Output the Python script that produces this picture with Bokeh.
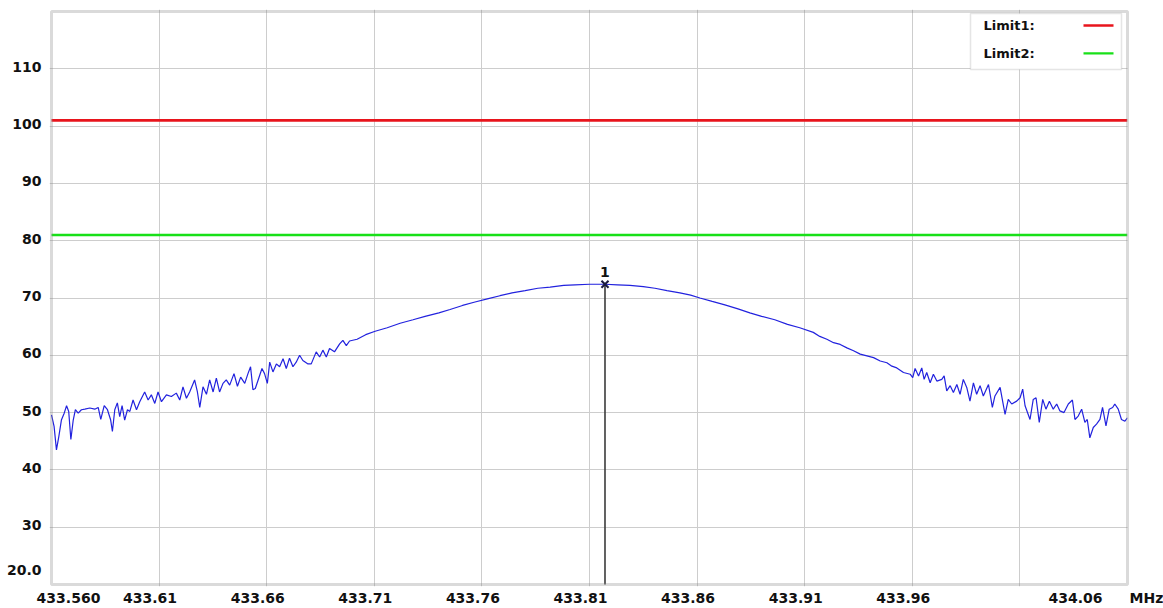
from bokeh.plotting import figure
from bokeh.models import LinearAxis, FixedTicker, Grid, BoxAnnotation, Label, CustomJSTickFormatter
from bokeh.embed import file_html
from bokeh.resources import INLINE

# ---------------- data ----------------
FREQ_MHZ = [
    433.5600, 433.5612, 433.5623, 433.5634, 433.5646, 433.5659, 433.5670, 433.5680, 433.5690, 433.5701,
    433.5711, 433.5724, 433.5739, 433.5755, 433.5778, 433.5801, 433.5817, 433.5829, 433.5845, 433.5860,
    433.5875, 433.5883, 433.5894, 433.5906, 433.5917, 433.5928, 433.5940, 433.5953, 433.5964, 433.5979,
    433.5995, 433.6010, 433.6033, 433.6049, 433.6064, 433.6080, 433.6095, 433.6111, 433.6134, 433.6157,
    433.6180, 433.6196, 433.6211, 433.6227, 433.6242, 433.6265, 433.6278, 433.6289, 433.6304, 433.6320,
    433.6335, 433.6351, 433.6366, 433.6381, 433.6397, 433.6412, 433.6428, 433.6448, 433.6464, 433.6479,
    433.6498, 433.6513, 433.6525, 433.6536, 433.6547, 433.6563, 433.6578, 433.6590, 433.6603, 433.6614,
    433.6629, 433.6645, 433.6660, 433.6676, 433.6691, 433.6706, 433.6722, 433.6737, 433.6753, 433.6768,
    433.6792, 433.6807, 433.6830, 433.6846, 433.6861, 433.6877, 433.6892, 433.6915, 433.6939, 433.6954,
    433.6970, 433.6985,
    433.7020, 433.7060, 433.7104, 433.7160, 433.7220, 433.7280, 433.7336, 433.7400, 433.7452, 433.7510,
    433.7568, 433.7630, 433.7684, 433.7740, 433.7801, 433.7860, 433.7917, 433.7980, 433.8033, 433.8100,
    433.8172, 433.8230, 433.8288, 433.8350, 433.8404, 433.8460, 433.8520, 433.8570, 433.8613, 433.8670,
    433.8729, 433.8790, 433.8845, 433.8900, 433.8961, 433.9020, 433.9077, 433.9140, 433.9170,
    433.9203, 433.9234, 433.9265, 433.9296, 433.9327, 433.9358, 433.9389, 433.9420, 433.9451, 433.9482,
    433.9505, 433.9528, 433.9559, 433.9590, 433.9602, 433.9613, 433.9629, 433.9644, 433.9655, 433.9667,
    433.9683, 433.9698, 433.9714, 433.9737, 433.9748, 433.9760, 433.9776, 433.9791, 433.9807, 433.9822,
    433.9837, 433.9853, 433.9868, 433.9884, 433.9899, 433.9915, 433.9930, 433.9954, 433.9972, 433.9984,
    434.0008, 434.0031, 434.0046, 434.0062, 434.0085, 434.0101, 434.0113, 434.0124, 434.0147, 434.0162,
    434.0175, 434.0190, 434.0206, 434.0221, 434.0237, 434.0255, 434.0271, 434.0286, 434.0305, 434.0325,
    434.0344, 434.0356, 434.0371, 434.0387, 434.0402, 434.0413, 434.0425, 434.0441, 434.0456, 434.0472,
    434.0484, 434.0500, 434.0515, 434.0531, 434.0541, 434.0557, 434.0572, 434.0588, 434.0600,
]
LEVEL_DBUV = [
    49.6, 47.6, 43.5, 45.8, 48.7, 49.9, 51.2, 50.2, 45.3, 48.7,
    50.5, 49.9, 50.5, 50.6, 50.8, 50.6, 50.9, 48.8, 51.2, 50.5,
    48.7, 46.7, 50.5, 51.7, 49.3, 51.2, 48.7, 50.5, 50.2, 52.2,
    50.5, 51.9, 53.6, 52.2, 53.1, 51.6, 53.6, 51.9, 53.1, 52.8,
    53.4, 52.2, 54.5, 52.5, 53.6, 55.7, 53.6, 50.9, 54.5, 53.2,
    55.7, 53.6, 56.0, 53.6, 55.1, 55.7, 54.8, 56.8, 54.6, 56.2,
    55.1, 56.8, 58.0, 54.0, 54.2, 56.0, 57.7, 56.8, 55.1, 58.8,
    57.1, 58.5, 58.0, 59.4, 57.7, 59.5, 58.0, 58.8, 60.0, 59.1,
    58.5, 58.5, 60.6, 59.7, 60.9, 59.7, 61.2, 60.6, 62.0, 62.6,
    61.7, 62.5,
    62.8, 63.6, 64.2, 64.8, 65.6, 66.2, 66.8, 67.4, 68.0, 68.7,
    69.3, 69.9, 70.4, 70.9, 71.3, 71.7, 71.9, 72.2, 72.3, 72.4,
    72.4, 72.3, 72.2, 72.0, 71.7, 71.3, 70.9, 70.5, 70.0, 69.4,
    68.8, 68.1, 67.4, 66.8, 66.2, 65.4, 64.8, 64.0, 63.3,
    62.8, 62.2, 61.9, 61.3, 60.8, 60.2, 59.9, 59.6, 59.0, 58.7,
    58.1, 57.8, 57.0, 56.7, 56.1, 57.7, 56.4, 57.8, 55.8, 57.0,
    55.2, 56.7, 55.5, 55.8, 56.4, 53.8, 54.7, 53.5, 54.9, 53.2,
    55.8, 54.4, 52.0, 55.2, 53.2, 54.7, 52.9, 54.9, 50.9, 52.9,
    54.4, 49.7, 52.3, 51.5, 52.0, 52.6, 54.1, 51.2, 48.8, 52.3,
    52.6, 48.3, 52.3, 50.6, 52.0, 50.6, 51.5, 50.3, 50.0, 51.5,
    52.2, 48.8, 49.4, 50.6, 48.3, 48.8, 45.6, 47.4, 48.0, 48.8,
    50.9, 47.7, 50.6, 50.9, 51.5, 50.6, 48.8, 48.5, 49.1,
]

X_GRID = [433.61, 433.66, 433.71, 433.76, 433.81, 433.86, 433.91, 433.96, 434.01]
X_TICKS = [433.56, 433.61, 433.66, 433.71, 433.76, 433.81, 433.86, 433.91, 433.96, 434.06]
X_TICK_LABELS = ["433.560", "433.61", "433.66", "433.71", "433.76", "433.81", "433.86", "433.91", "433.96", "434.06"]
Y_GRID = [30, 40, 50, 60, 70, 80, 90, 100, 110]
Y_TICKS = [20, 30, 40, 50, 60, 70, 80, 90, 100, 110]
Y_TICK_LABELS = ["20.0", "30", "40", "50", "60", "70", "80", "90", "100", "110"]
X_UNIT = "MHz"

LIMIT_NAMES = ["Limit1:", "Limit2:"]
LIMIT_LEVELS = [101.0, 81.0]
LIMIT_COLORS = ["#e8141c", "#18e018"]

MARKER_NAME = "1"
MARKER_FREQ = 433.8172
MARKER_LEVEL = 72.4

X_MIN, X_MAX = 433.56, 434.06
Y_MIN, Y_MAX = 20.0, 120.0

# ---------------- layout ----------------
BOX_W, BOX_H = 1076, 574             # pixel size of the chart box
FPP = (X_MAX - X_MIN) / BOX_W        # MHz per pixel
VPP = (Y_MAX - Y_MIN) / BOX_H        # dB per pixel
PAD = 2                              # px of frame around the box so its border is not clipped
RIGHT_PAD = 36                       # room right of the box for the unit label
FONT = "DejaVu Sans"
TXT = "#111111"

p = figure(width=1163, height=608,
           x_range=(X_MIN - PAD * FPP, X_MAX + RIGHT_PAD * FPP),
           y_range=(Y_MIN - PAD * VPP, Y_MAX + PAD * VPP),
           x_axis_location=None, y_axis_location=None,
           output_backend="svg", toolbar_location=None,
           min_border_left=51 - PAD, min_border_right=0,
           min_border_top=11 - PAD, min_border_bottom=23 - PAD)
p.center = [r for r in p.center if not isinstance(r, Grid)]
p.background_fill_color = "white"
p.border_fill_color = "white"
p.outline_line_color = None

# grids
p.add_layout(Grid(dimension=0, ticker=FixedTicker(ticks=X_GRID), grid_line_color="#cdcdcd", grid_line_width=1))
p.add_layout(Grid(dimension=1, ticker=FixedTicker(ticks=Y_GRID), grid_line_color="#cdcdcd", grid_line_width=1))

# tick label placement (labels sit a little left of their grid lines, as in the reference)
x_label_pos = [t - 9 * FPP for t in X_TICKS]
x_label_pos[0] = X_TICKS[0] + 17 * FPP
x_label_pos[-1] = X_TICKS[-1] - 52 * FPP
x_label_pos.append(X_MAX + 19 * FPP)
x_labels = X_TICK_LABELS + [X_UNIT]
y_label_pos = [t + 2 * VPP for t in Y_TICKS]
y_label_pos[0] = Y_TICKS[0] + 15 * VPP

fmt_code = """
let b = 0;
for (let i = 0; i < pos.length; i++) { if (Math.abs(pos[i] - tick) < Math.abs(pos[b] - tick)) b = i; }
return labels[b];
"""
xax = LinearAxis(ticker=FixedTicker(ticks=x_label_pos),
                 formatter=CustomJSTickFormatter(args=dict(pos=x_label_pos, labels=x_labels), code=fmt_code))
yax = LinearAxis(ticker=FixedTicker(ticks=y_label_pos),
                 formatter=CustomJSTickFormatter(args=dict(pos=y_label_pos, labels=Y_TICK_LABELS), code=fmt_code))
for ax in (xax, yax):
    ax.axis_line_color = None
    ax.major_tick_line_color = None
    ax.minor_tick_line_color = None
    ax.major_tick_out = 0
    ax.major_tick_in = 0
    ax.major_label_text_font = FONT
    ax.major_label_text_font_style = "bold"
    ax.major_label_text_font_size = "14px"
    ax.major_label_text_color = TXT
xax.major_label_standoff = 3
yax.major_label_standoff = 8
p.add_layout(xax, "below")
p.add_layout(yax, "left")

# limit lines
for lvl, col in zip(LIMIT_LEVELS, LIMIT_COLORS):
    p.segment(x0=[X_MIN], y0=[lvl], x1=[X_MAX], y1=[lvl], line_color=col, line_width=2.6)

# trace
p.line(FREQ_MHZ, LEVEL_DBUV, line_color="#2222de", line_width=1.2)

# marker
p.segment(x0=[MARKER_FREQ], y0=[Y_MIN], x1=[MARKER_FREQ], y1=[MARKER_LEVEL], line_color="#3c3c3c", line_width=1.6)
p.scatter([MARKER_FREQ], [MARKER_LEVEL], marker="x", size=10, line_color="#1a1a40", line_width=2)
p.add_layout(Label(x=MARKER_FREQ, y=MARKER_LEVEL, y_offset=7, text=MARKER_NAME, text_font=FONT,
                   text_font_style="bold", text_font_size="14px", text_color=TXT,
                   text_align="center", text_baseline="bottom"))

# blank strip right of the chart box, then the box border
p.add_layout(BoxAnnotation(left=X_MAX, fill_color="white", fill_alpha=1.0, line_color=None, level="annotation"))
p.add_layout(BoxAnnotation(left=X_MIN, right=X_MAX, bottom=Y_MIN, top=Y_MAX, fill_alpha=0.0,
                           line_color="#858585", line_width=3, level="annotation"))

# legend box (top right)
lg_left = X_MAX - 157 * FPP
lg_right = X_MAX - 6 * FPP
lg_top = Y_MAX - 2 * VPP
lg_bottom = Y_MAX - 58 * VPP
p.add_layout(BoxAnnotation(left=lg_left, right=lg_right, top=lg_top, bottom=lg_bottom,
                           fill_color="white", fill_alpha=1.0, line_color="#a8a8a8", line_width=1.5,
                           level="annotation"))
for i, (name, col) in enumerate(zip(LIMIT_NAMES, LIMIT_COLORS)):
    row_y = lg_top - (12 + 28 * i) * VPP
    p.add_layout(Label(x=lg_left, y=row_y, x_offset=13, text=name, text_font=FONT,
                       text_font_style="bold", text_font_size="13px", text_color=TXT,
                       text_baseline="middle", text_align="left", level="annotation"))
    p.add_layout(BoxAnnotation(left=lg_right - 38 * FPP, right=lg_right - 8 * FPP,
                               top=row_y + 1.2 * VPP, bottom=row_y - 1.2 * VPP,
                               fill_color=col, fill_alpha=1.0, line_color=None, level="annotation"))

open("out.html", "w").write(file_html(p, INLINE))
